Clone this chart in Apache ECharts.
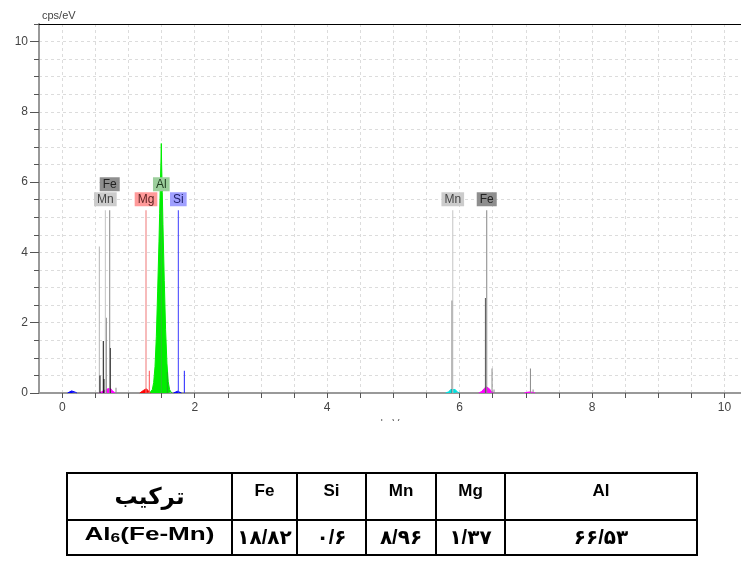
<!DOCTYPE html>
<html>
<head>
<meta charset="utf-8">
<script src="https://cdn.jsdelivr.net/npm/echarts@6/dist/echarts.min.js"></script>
<style>
  html, body { margin: 0; padding: 0; background: #fff; }
  #chart { width: 741px; height: 576px; }
</style>
</head>
<body>
<div id="chart"></div>
<script>
// ---- axis ticks (keV / cps per eV) ----
const xTicks = [0, 0.5, 1, 1.5, 2, 2.5, 3, 3.5, 4, 4.5, 5, 5.5, 6, 6.5, 7, 7.5, 8, 8.5, 9, 9.5, 10];
const xLabels = [0, 2, 4, 6, 8, 10];
const yMajor = [0, 2, 4, 6, 8, 10];

// ---- fitted element peaks [keV, cps/eV] ----
const fitC = [[0.08, 0], [0.11, 0.03], [0.14, 0.06], [0.17, 0.05], [0.20, 0.02], [0.22, 0]];
const fitLFeMn = [[0.55, 0], [0.59, 0.03], [0.63, 0.07], [0.66, 0.11], [0.69, 0.12], [0.71, 0.09], [0.73, 0.13], [0.75, 0.07], [0.78, 0.02], [0.80, 0]];
const fitMg = [[1.17, 0], [1.20, 0.03], [1.23, 0.08], [1.25, 0.13], [1.27, 0.12], [1.29, 0.07], [1.32, 0.02], [1.34, 0]];
const fitAl = [[1.32, 0], [1.34, 0.03], [1.36, 0.10], [1.38, 0.30], [1.40, 0.75], [1.42, 1.6], [1.44, 2.9], [1.46, 4.3], [1.47, 5.1], [1.48, 5.9], [1.49, 6.6], [1.495, 7.1], [1.50, 6.5], [1.51, 5.7], [1.52, 4.8], [1.54, 3.2], [1.56, 1.8], [1.58, 0.85], [1.60, 0.32], [1.62, 0.10], [1.64, 0.03], [1.66, 0]];
const fitSi = [[1.68, 0], [1.71, 0.03], [1.74, 0.05], [1.77, 0.04], [1.80, 0]];
const fitMnK = [[5.79, 0], [5.83, 0.03], [5.87, 0.10], [5.90, 0.13], [5.93, 0.10], [5.97, 0.03], [6.00, 0]];
const fitFeK = [[6.29, 0], [6.33, 0.04], [6.37, 0.12], [6.40, 0.18], [6.42, 0.20], [6.45, 0.12], [6.48, 0.04], [6.52, 0]];
const fitFeKb = [[6.98, 0], [7.02, 0.02], [7.06, 0.03], [7.10, 0.02], [7.14, 0]];

// ---- characteristic line sticks [keV, cps/eV] ----
const sticksLight = [[0.559, 4.17]];
const sticksBlack = [[0.569, 0.5], [0.619, 1.48], [0.630, 0.4], [0.725, 1.28]];
const sticksGray = [[0.665, 2.14], [0.811, 0.15], [6.49, 0.70], [6.52, 0.10], [7.07, 0.70], [7.11, 0.10]];
const sticksDark = [[5.887, 2.63], [6.39, 2.70]];
const sticksRed = [[1.314, 0.63]];
const sticksGreen = [[1.586, 0.60]];
const sticksBlue = [[1.843, 0.63]];

// ---- element identification markers (keV) ----
const markerTop = 5.2;
const markerNames = ['Mn', 'Fe', 'Mg', 'Al', 'Si'];
const markerEnergies = {
  Mn: [0.650, 5.897],
  Fe: [0.716, 6.41],
  Mg: [1.264],
  Al: [1.495],
  Si: [1.752]
};

// ---- composition table ----
const tableHeader = 'ترکیب';
const tableElements = ['Fe', 'Si', 'Mn', 'Mg', 'Al'];
const phaseBase = 'Al';
const phaseSub = '6';
const phaseRest = '(Fe-Mn)';
const tableValues = ['۱۸/۸۲', '۰/۶', '۸/۹۶', '۱/۳۷', '۶۶/۵۳'];

const markerStyle = {
  Mn: { line: '#c4c4c4', bg: '#cccccc', text: '#444' },
  Fe: { line: '#858585', bg: '#8e8e8e', text: '#222' },
  Mg: { line: '#f07878', bg: '#ff9a9a', text: '#5a1f1f' },
  Al: { line: '#2fbf2f', bg: '#9ccf9c', text: '#1f3a1f' },
  Si: { line: '#3a3aff', bg: '#a0a0ff', text: '#20206a' }
};

// stack labels that would overlap onto a second row
const labelWidthKeV = 0.33;
const allMarkers = [];
markerNames.forEach(n => markerEnergies[n].forEach(e => allMarkers.push({ name: n, e })));
allMarkers.sort((a, b) => a.e - b.e);
const rows = [[], []];
allMarkers.forEach(m => {
  let lvl = 0;
  while (lvl < rows.length - 1 && rows[lvl].some(o => Math.abs(o - m.e) < labelWidthKeV)) lvl++;
  rows[lvl].push(m.e);
  m.level = lvl;
});

const font = "'Liberation Sans', 'DejaVu Sans', Arial, sans-serif";

function fill(data, color) {
  return {
    type: 'line', data, symbol: 'none', smooth: false, z: 3,
    lineStyle: { width: 1, color }, itemStyle: { color },
    areaStyle: { color, opacity: 1 }, silent: true, animation: false
  };
}
function sticks(data, color) {
  return {
    type: 'bar', data, barWidth: 1, barGap: '-100%', z: 4,
    itemStyle: { color }, silent: true, animation: false
  };
}

const series = [
  fill(fitC, '#0000ff'),
  fill(fitLFeMn, '#ff00ff'),
  fill(fitMg, '#ff0000'),
  fill(fitAl, '#00ee00'),
  fill(fitSi, '#0000ff'),
  fill(fitMnK, '#00e0e0'),
  fill(fitFeK, '#ff00ff'),
  fill(fitFeKb, '#ff00ff'),
  sticks(sticksLight, '#b4b4b4'),
  sticks(sticksGray, '#8a8a8a'),
  sticks(sticksDark, '#555555'),
  sticks(sticksBlack, '#111111'),
  sticks(sticksRed, '#ff5050'),
  sticks(sticksGreen, '#22aa22'),
  sticks(sticksBlue, '#2020ff')
];

markerNames.forEach(n => {
  const st = markerStyle[n];
  const data = allMarkers.filter(m => m.name === n).map(m => ({
    value: [m.e, markerTop],
    label: { distance: m.level ? 19 : 4 }
  }));
  series.push({
    type: 'bar', name: n, data, barWidth: 1, barGap: '-100%', z: 5,
    itemStyle: { color: st.line }, silent: true, animation: false,
    label: {
      show: true, position: 'top', formatter: n,
      backgroundColor: st.bg, color: st.text, padding: [1, 3, 0, 3],
      fontFamily: font, fontSize: 12, lineHeight: 13
    }
  });
});

// table layout
const colEdges = [67, 232, 297, 366, 436, 505, 697];
const rowEdges = [473, 520, 555];
const graphics = [];
const tx = (i) => (colEdges[i] + colEdges[i + 1]) / 2;
const ty = (r) => (rowEdges[r] + rowEdges[r + 1]) / 2;

// the axis title sits partly below the plot frame edge
graphics.push({
  type: 'rect', z: 100,
  shape: { x: 300, y: 421, width: 200, height: 40 },
  style: { fill: '#fff' }
});
graphics.push({
  type: 'rect', z: 101,
  shape: { x: colEdges[0], y: rowEdges[0], width: colEdges[6] - colEdges[0], height: rowEdges[2] - rowEdges[0] },
  style: { fill: 'none', stroke: '#000', lineWidth: 2 }
});
graphics.push({
  type: 'line', z: 101,
  shape: { x1: colEdges[0], y1: rowEdges[1], x2: colEdges[6], y2: rowEdges[1] },
  style: { stroke: '#000', lineWidth: 2 }
});
for (let i = 1; i < colEdges.length - 1; i++) {
  graphics.push({
    type: 'line', z: 101,
    shape: { x1: colEdges[i], y1: rowEdges[0], x2: colEdges[i], y2: rowEdges[2] },
    style: { stroke: '#000', lineWidth: 2 }
  });
}
graphics.push({
  type: 'text', z: 102, x: tx(0), y: ty(0) + 1,
  style: { text: tableHeader, fill: '#000', font: 'bold 23px ' + font, align: 'center', verticalAlign: 'middle' }
});
tableElements.forEach((el, i) => {
  graphics.push({
    type: 'text', z: 102, x: tx(i + 1), y: ty(0) - 5,
    style: { text: el, fill: '#000', font: 'bold 17px ' + font, align: 'center', verticalAlign: 'middle' }
  });
  graphics.push({
    type: 'text', z: 102, x: tx(i + 1), y: ty(1) + 1,
    style: { text: tableValues[i], fill: '#000', font: 'bold 20px ' + font, align: 'center', verticalAlign: 'middle' }
  });
});
// phase name is set in a wide face
graphics.push({
  type: 'text', z: 102, x: tx(0), y: ty(1) - 3, scaleX: 1.45, scaleY: 1,
  style: {
    text: '{a|' + phaseBase + '}{s|' + phaseSub + '}{a|' + phaseRest + '}',
    align: 'center', verticalAlign: 'middle',
    rich: {
      a: { fontFamily: font, fontWeight: 'bold', fontSize: 18, lineHeight: 20, fill: '#000', verticalAlign: 'bottom' },
      s: { fontFamily: font, fontWeight: 'bold', fontSize: 12, lineHeight: 14, fill: '#000', verticalAlign: 'bottom', padding: [6, 0, 0, 0] }
    }
  }
});

const chart = echarts.init(document.getElementById('chart'), null, { renderer: 'canvas' });
chart.setOption({
  animation: false,
  backgroundColor: '#fff',
  grid: { left: 39, right: 0, top: 24, bottom: 183, containLabel: false },
  xAxis: [{
    type: 'value', min: -0.352, max: 10.25,
    name: 'keV', nameLocation: 'middle', nameGap: 21,
    nameTextStyle: { color: '#666', fontFamily: font, fontSize: 11 },
    axisLine: { onZero: false, lineStyle: { color: '#999', width: 2 } },
    axisTick: { customValues: xTicks, length: 5, lineStyle: { color: '#555' } },
    axisLabel: { customValues: xLabels, margin: 9, color: '#444', fontFamily: font, fontSize: 12 },
    splitLine: { show: true, lineStyle: { color: '#dcdcdc', type: [3, 3], width: 1 } }
  }, {
    type: 'value', position: 'top', min: -0.352, max: 10.25,
    axisLine: { show: true, onZero: false, lineStyle: { color: '#000', width: 1 } },
    axisTick: { show: false }, axisLabel: { show: false }, splitLine: { show: false }
  }],
  yAxis: [{
    type: 'value', min: 0, max: 10.5, interval: 0.5,
    name: 'cps/eV', nameLocation: 'end', nameGap: 3,
    nameTextStyle: { color: '#444', fontFamily: font, fontSize: 11, align: 'left', verticalAlign: 'bottom', padding: [0, 0, 0, 3] },
    axisLine: { show: true, onZero: false, lineStyle: { color: '#999', width: 2 } },
    axisTick: { show: true, length: 5, lineStyle: { color: '#555' } },
    axisLabel: { show: false },
    splitLine: { show: true, lineStyle: { color: '#dcdcdc', type: [3, 3], width: 1 } }
  }, {
    type: 'value', position: 'left', min: 0, max: 10.5, offset: 0,
    axisLine: { show: false, onZero: false },
    axisTick: { show: true, customValues: yMajor, length: 9, lineStyle: { color: '#555' } },
    axisLabel: { customValues: yMajor, margin: 11, color: '#444', fontFamily: font, fontSize: 12 },
    splitLine: { show: false }
  }],
  series,
  graphic: graphics
});
</script>
</body>
</html>
